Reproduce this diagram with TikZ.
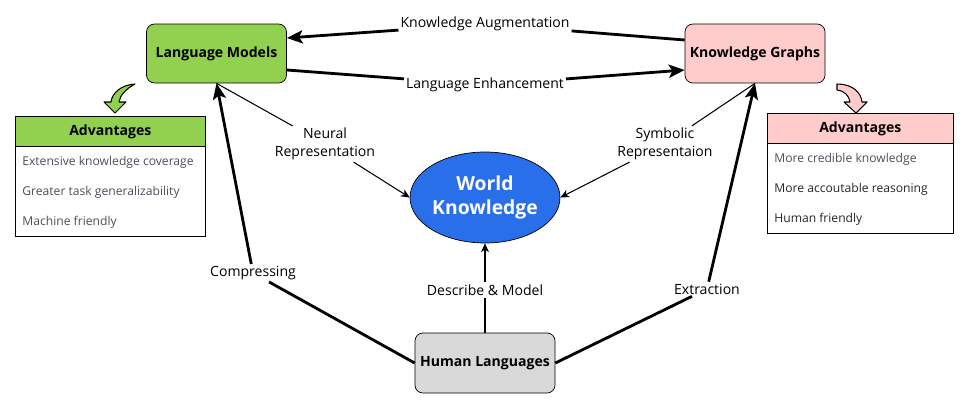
\documentclass[tikz,border=0pt]{standalone}
\usepackage{fontspec}
\setmainfont{Open Sans}
\usetikzlibrary{arrows.meta,shapes.geometric}
\definecolor{lmgreen}{HTML}{92D050}
\definecolor{kgpink}{HTML}{FFCCCC}
\definecolor{hlgray}{HTML}{D9D9D9}
\definecolor{wkblue}{HTML}{2A6FEA}
\definecolor{rowtext}{HTML}{4A4F5A}

\begin{document}
\begin{tikzpicture}[x=0.02cm,y=-0.02cm,
    box/.style={draw,rounded corners=4.5pt,minimum width=2.8cm,minimum height=1.18cm,
      inner sep=0,font=\fontsize{8}{10}\selectfont\bfseries},
    lbl/.style={fill=white,inner sep=1pt,font=\fontsize{8}{10.2}\selectfont,align=center},
    bigarrow/.style={line width=1.6pt,-{Stealth[length=9pt,width=7.5pt,inset=2pt]}},
    thinarrow/.style={line width=0.6pt,-{Stealth[length=5pt,width=4.5pt,inset=1.5pt]}},
    head/.style={draw,anchor=north west,inner sep=0,minimum height=0.6cm,
      font=\fontsize{8}{10}\selectfont\bfseries},
    body/.style={draw,anchor=north west,inner sep=0,minimum height=1.8cm},
    row/.style={anchor=west,inner sep=0,text=rowtext,font=\fontsize{6.9}{8}\selectfont}]
  \useasboundingbox (0,0) rectangle (969,409);

  \begin{scope}[every node/.style={box}]
    \node[fill=lmgreen] (lm) at (216.5,53.5) {Language Models};
    \node[fill=kgpink] (kg) at (755,53.5) {Knowledge Graphs};
    \node[fill=hlgray,minimum height=1.2cm] (hl) at (485,363) {Human Languages};
  \end{scope}
  \node[ellipse,draw,fill=wkblue,text=white,inner sep=0,minimum width=3cm,minimum height=1.82cm,
    align=center,font=\fontsize{11}{13.5}\selectfont\bfseries] (wk) at (485,197.5) {World\\Knowledge};

  % advantages tables
  \node[head,fill=lmgreen,minimum width=3.8cm] (lhead) at (15,116) {Advantages};
  \node[body,minimum width=3.8cm] (lbody) at (15,146) {};
  \node[row] (l1) at (22,162) {Extensive knowledge coverage};
  \node[row] (l2) at (22,192) {Greater task generalizability};
  \node[row] (l3) at (22,222) {Machine friendly};

  \node[head,fill=kgpink,minimum width=3.72cm] (rhead) at (767,113) {Advantages};
  \node[body,minimum width=3.72cm] (rbody) at (767,143) {};
  \node[row] (r1) at (774,159) {More credible knowledge};
  \node[row,text=black!85] (r2) at (774,189) {More accoutable reasoning};
  \node[row,text=black!85] (r3) at (774,219) {Human friendly};

  % edge labels
  \begin{scope}[every node/.style={lbl}]
    \node (aug) at (485,24) {Knowledge Augmentation};
    \node (enh) at (485,85) {Language Enhancement};
    \node (neural) at (325,144) {Neural\\Representation};
    \node (symb) at (665,144) {Symbolic\\Representaion};
    \node (comp) at (253,273) {Compressing};
    \node (extr) at (707,289) {Extraction};
    \node (desc) at (485,290) {Describe \& Model};
  \end{scope}

  \draw[bigarrow] ([yshift=0.27cm]kg.west) -- (aug) -- ([yshift=0.31cm]lm.east);
  \draw[bigarrow] ([yshift=-0.33cm]lm.east) -- (enh) -- ([yshift=-0.33cm]kg.west);
  \draw[bigarrow] (hl.west) -- (comp) -- (lm.south);
  \draw[bigarrow] (hl.east) -- (extr) -- (kg.south);
  \draw[thinarrow] (lm.south) -- (neural) -- (wk.west);
  \draw[thinarrow] (kg.south) -- (symb) -- (wk.east);
  \draw[thinarrow] (hl.north) -- (desc) -- (wk.south);

  % curved block arrows
  \filldraw[fill=lmgreen,line width=0.6pt,line join=round]
    (135,84) .. controls (121,85) and (112,93) .. (111,102) -- (104,102) -- (115,113)
    -- (126,102) -- (119,102) .. controls (120,95) and (126,89) .. (135,84) -- cycle;
  \filldraw[fill=kgpink,line width=0.6pt,line join=round]
    (837,84) .. controls (852,84) and (861,92) .. (862,102) -- (867,102) -- (856,113)
    -- (844,102) -- (850,102) .. controls (849,96) and (845,91) .. (837,90) -- cycle;
\end{tikzpicture}
\end{document}
